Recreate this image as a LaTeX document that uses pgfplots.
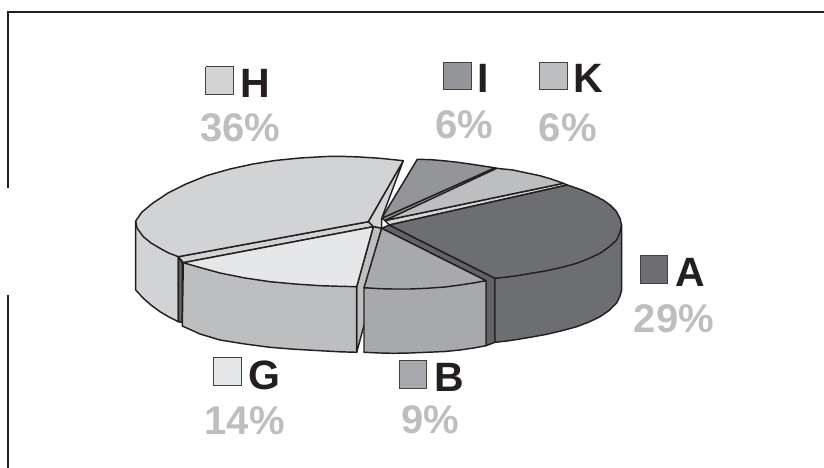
\documentclass[border=0pt]{standalone}
\usepackage{fontspec}
\setmainfont{Liberation Sans}
\usepackage{pgfplots}
\pgfplotsset{compat=1.18}
\definecolor{ink}{HTML}{231F20}
\definecolor{pct}{HTML}{BCBEC0}
\definecolor{cA}{HTML}{6D6E71}
\definecolor{cAw}{HTML}{626366}
\definecolor{cB}{HTML}{A7A9AC}
\definecolor{cG}{HTML}{E6E7E8}
\definecolor{cGs}{HTML}{BCBEC0}
\definecolor{cH}{HTML}{D1D3D4}
\definecolor{cI}{HTML}{939598}
\definecolor{cK}{HTML}{BCBEC0}
\newcommand{\labelfont}{\fontsize{41}{41}\selectfont\bfseries}
\newcommand{\sharefont}{\fontsize{40}{40}\selectfont\bfseries}
\tikzset{
  wedge/.style={draw=ink, line width=1.45pt, line join=round, line cap=round},
  swatch/.style={draw=ink!85, line width=1pt, line join=miter},
  letter/.style={anchor=base west, inner sep=0pt, text=ink, font=\labelfont},
  share/.style={anchor=base, inner sep=0pt, text=pct, font=\sharefont},
}
\begin{document}
\begin{tikzpicture}
\begin{axis}[
  scale only axis, width=824pt, height=468pt,
  xmin=0, xmax=824, ymin=0, ymax=468, y dir=reverse,
  hide axis, no marks,
]
% page extent
\path (axis cs:0,0) rectangle (axis cs:824,468);

% frame lines
\addplot[draw=ink, line width=2.7pt, line cap=butt] coordinates {(8,188) (8,12) (824,12)};
\addplot[draw=ink, line width=2.7pt, line cap=butt] coordinates {(8,295) (8,468)};

% slice I
\addplot[wedge, fill=cI] coordinates {(381.7,218.3) (385,220.5) (498,169) (495,167.8) (381.7,218.3)};
\addplot[wedge, fill=cI] coordinates {(417.3,159.3) (430,159.6) (443.3,160.7) (457,162.2) (470,164) (483,166) (495,167.8) (381.7,218.3) (417.3,159.3)};

% slice K
\addplot[wedge, fill=cH] coordinates {(385,220.5) (389.3,225) (567.3,185) (563.3,183.3) (385,220.5)};
\addplot[wedge, fill=cK] coordinates {(496.7,168.3) (513,170) (527,173) (540,175.7) (552,179.3) (563.3,183.3) (385,220.5) (496.7,168.3)};

% slice H: outer side, cut face, top
\addplot[wedge, fill=cH] coordinates {(135.7,221) (135.7,290) (143.3,298.3) (151,305) (160,311.7) (169,317) (178.3,321.7) (178.3,257) (135.7,221)};
\addplot[wedge, fill=cH] coordinates {(403.3,160.7) (368.3,221.7) (373.3,226.7) (381.7,228.3) (381.7,218.3) (403.3,160.7)};
\addplot[wedge, fill=cH] coordinates {(178.3,256.7) (368.3,221.7) (373.3,226.7) (183.3,262.7) (178.3,256.7)};
\addplot[wedge, fill=ink!70] coordinates {(178.3,257) (178.3,321.7) (182.3,322.5) (182.3,262.7) (178.3,257)};
\addplot[wedge, fill=cH] coordinates {(403.3,160.7) (380,158.3) (360,157) (340,156.3) (326,156.5) (300,158) (275,160.5) (253,164) (230,169) (207,175.5) (186,184) (168,193) (153,203) (142,212) (135.7,221) (137,228) (143.3,236.7) (151,243) (160,248.3) (168,252.7) (178.3,256.7) (368.3,221.7) (403.3,160.7)};

% slice G: cut face, outer side, top
\addplot[wedge, fill=cGs] coordinates {(373.3,226.7) (381.7,228.3) (365,287.7) (365,321.7) (356.7,352.3) (356.7,286.7) (373.3,226.7)};
\addplot[wedge, fill=cGs] coordinates {(183.3,262.7) (182.3,326) (200,334) (220,340) (245,344) (270,347.3) (295,349.3) (320,350.7) (340,351.8) (356.7,352.3) (356.7,286.7) (183.3,262.7)};
\addplot[wedge, fill=cG] coordinates {(183.3,262.7) (200,267.5) (220,273) (245,278) (270,281.7) (295,284) (320,285.7) (340,286.3) (356.7,286.7) (373.3,226.7) (183.3,262.7)};

% slice A: cut face, outer side, top
\addplot[wedge, fill=cAw] coordinates {(381.7,228.3) (389.3,225) (495,278.3) (495,342.3) (486,345.7) (486,280.7) (381.7,228.3)};
\addplot[wedge, fill=cA] coordinates {(495,278.3) (495,342.3) (507,341) (520,339) (533,336.8) (546.7,334.3) (562,330.7) (576.7,326.7) (589,322) (600,316.7) (609,310.5) (616.7,303) (620,296) (621.7,290) (621.7,225) (495,278.3)};
\addplot[wedge, fill=cA] coordinates {(389.3,225) (567.3,185) (582,190) (593.3,195) (603,200) (610,205) (616,211) (620,218.3) (621.5,225) (620,232) (616.7,240) (609,247) (600,253.3) (589,258.5) (576.7,263.3) (562,267.3) (546.7,270.7) (533,273) (520,275.3) (507,277) (495,278.3) (389.3,225)};

% slice B: outer side, top
\addplot[wedge, fill=cB] coordinates {(364,287.7) (364,352.3) (380,353) (393,353.3) (410,353) (426.7,352.3) (445,351.5) (460,350) (475,347.8) (486,345.7) (486,280.7) (364,287.7)};
\addplot[wedge, fill=cB] coordinates {(381.7,228.3) (364,287.7) (380,288.7) (393.3,289) (410,289) (426.7,288.3) (445,287) (460,285) (475,282.7) (486,280.7) (381.7,228.3)};

% legend swatches
\addplot[swatch, fill=cH] coordinates {(205.7,66.7) (233.3,66.7) (233.3,95) (205.7,95) (205.7,66.7)};
\addplot[swatch, fill=cI] coordinates {(443.3,62.3) (471,62.3) (471,90) (443.3,90) (443.3,62.3)};
\addplot[swatch, fill=cK] coordinates {(539.3,62.3) (567,62.3) (567,90) (539.3,90) (539.3,62.3)};
\addplot[swatch, fill=cA] coordinates {(640,255) (667.7,255) (667.7,283.3) (640,283.3) (640,255)};
\addplot[swatch, fill=cB] coordinates {(399,360.7) (426.7,360.7) (426.7,388.3) (399,388.3) (399,360.7)};
\addplot[swatch, fill=cG] coordinates {(213.3,357.3) (241,357.3) (241,385.3) (213.3,385.3) (213.3,357.3)};

% category letters
\node[letter] at (axis cs:240,98) {H};
\node[letter] at (axis cs:477,93) {I};
\node[letter] at (axis cs:573.5,93) {K};
\node[letter] at (axis cs:675,286.7) {A};
\node[letter] at (axis cs:434,391.7) {B};
\node[letter] at (axis cs:248,389) {G};

% percentages
\node[share] at (axis cs:240.5,141) {36\%};
\node[share] at (axis cs:464.5,139) {6\%};
\node[share] at (axis cs:567.7,141.5) {6\%};
\node[share] at (axis cs:674,332.5) {29\%};
\node[share] at (axis cs:430.2,433.5) {9\%};
\node[share] at (axis cs:244.6,434) {14\%};
\end{axis}
\end{tikzpicture}
\end{document}
